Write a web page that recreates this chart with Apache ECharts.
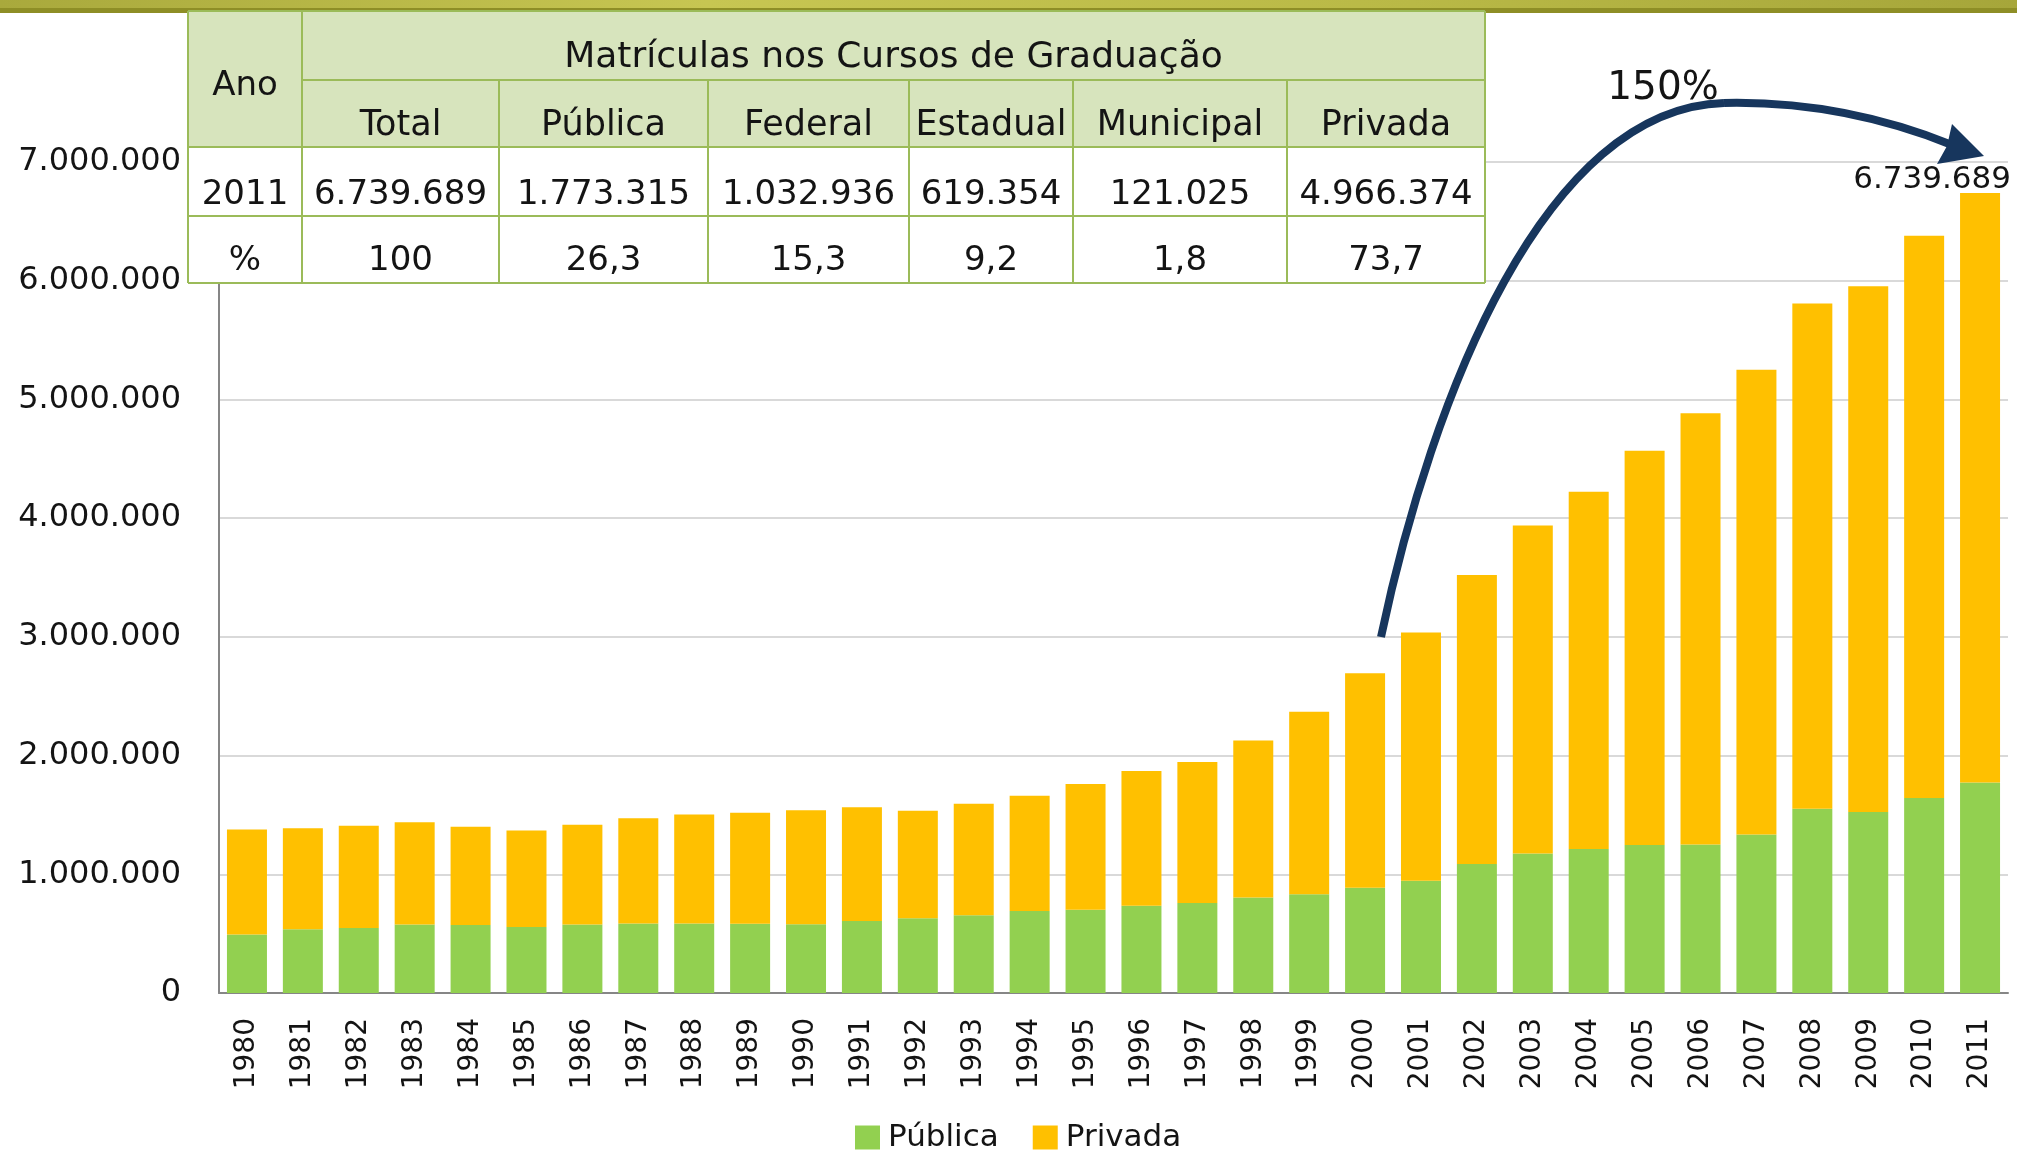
<!DOCTYPE html>
<html>
<head>
<meta charset="utf-8">
<title>Matrículas nos Cursos de Graduação</title>
<script src="https://cdn.jsdelivr.net/npm/echarts@6/dist/echarts.min.js"></script>
<style>
    html, body { margin: 0; padding: 0; background: #fff; }
    #chart { width: 2017px; height: 1155px; }
</style>
</head>
<body>
<div id="chart"></div>
<script>
    // anos do gráfico
    var anos = ['1980', '1981', '1982', '1983', '1984', '1985', '1986', '1987', '1988', '1989',
        '1990', '1991', '1992', '1993', '1994', '1995', '1996', '1997', '1998', '1999',
        '2000', '2001', '2002', '2003', '2004', '2005', '2006', '2007', '2008', '2009',
        '2010', '2011'];
    // matrículas - rede pública
    var publica = [492000, 536000, 548000, 577000, 572000, 557000, 578000, 585000, 585000, 584000,
        579000, 606000, 630000, 654000, 690000, 701000, 735000, 759000, 805000, 832000,
        887000, 945000, 1086000, 1176000, 1214000, 1247000, 1251000, 1335000, 1553000, 1524000,
        1643000, 1773315];
    // matrículas - rede privada
    var privada = [885000, 851000, 860000, 862000, 828000, 811000, 840000, 886000, 918000, 935000,
        961000, 959000, 906000, 941000, 971000, 1059000, 1134000, 1187000, 1321000, 1538000,
        1807000, 2091000, 2435000, 2761000, 3009000, 3321000, 3633000, 3915000, 4255000, 4430000,
        4736000, 4966374];
    // eixo y
    var yMax = 7000000;
    var yStep = 1000000;

    // tabela
    var tabelaAno = 'Ano';
    var tabelaTitulo = 'Matrículas nos Cursos de Graduação';
    var tabelaColunas = ['Total', 'Pública', 'Federal', 'Estadual', 'Municipal', 'Privada'];
    var tabelaLinhas = [
        ['2011', '6.739.689', '1.773.315', '1.032.936', '619.354', '121.025', '4.966.374'],
        ['%', '100', '26,3', '15,3', '9,2', '1,8', '73,7']
    ];
    var crescimento = '150%';

    var fonte = '"DejaVu Sans", Verdana, sans-serif';
    var corTexto = '#141414';
    var corSeta = '#17365D';

    function pontos(n) {
        return String(n).replace(/\B(?=(\d{3})+(?!\d))/g, '.');
    }

    // grade da tabela
    var colX = [188, 302, 499, 708, 909, 1073, 1287, 1485];
    var rowY = [11, 80, 147, 216, 283];
    var verde = '#9BBB59';
    var fundo = '#D7E4BD';

    function texto(str, x, y, size) {
        return {
            type: 'text', z: 102, x: x, y: y,
            style: {
                text: str, fill: corTexto, font: size + 'px ' + fonte,
                textAlign: 'center', textVerticalAlign: 'middle',
                align: 'center', verticalAlign: 'middle'
            }
        };
    }

    function linha(x1, y1, x2, y2) {
        return {
            type: 'line', z: 101,
            shape: { x1: x1, y1: y1, x2: x2, y2: y2 },
            style: { stroke: verde, lineWidth: 2 }
        };
    }

    function curva(p) {
        return {
            type: 'bezierCurve', z: 103,
            shape: { x1: p[0], y1: p[1], cpx1: p[2], cpy1: p[3], cpx2: p[4], cpy2: p[5], x2: p[6], y2: p[7] },
            style: { stroke: corSeta, lineWidth: 8, fill: 'none' }
        };
    }

    var graficos = [];
    // faixa superior
    graficos.push({
        type: 'rect', z: 100,
        shape: { x: 0, y: 0, width: 2017, height: 13 },
        style: {
            fill: new echarts.graphic.LinearGradient(0, 0, 1, 0, [
                { offset: 0, color: '#A9A93C' },
                { offset: 0.35, color: '#C7C652' },
                { offset: 0.7, color: '#B9B946' },
                { offset: 1, color: '#A6A63A' }
            ])
        }
    });
    graficos.push({
        type: 'rect', z: 100,
        shape: { x: 0, y: 8, width: 2017, height: 5 },
        style: { fill: '#8E8E26' }
    });
    // fundo da tabela
    graficos.push({
        type: 'rect', z: 100,
        shape: { x: colX[0], y: rowY[0], width: colX[7] - colX[0], height: rowY[2] - rowY[0] },
        style: { fill: fundo }
    });
    graficos.push({
        type: 'rect', z: 100,
        shape: { x: colX[0], y: rowY[2], width: colX[7] - colX[0], height: rowY[4] - rowY[2] },
        style: { fill: '#fff' }
    });
    // linhas horizontais
    graficos.push(linha(colX[0], rowY[0], colX[7], rowY[0]));
    graficos.push(linha(colX[1], rowY[1], colX[7], rowY[1]));
    graficos.push(linha(colX[0], rowY[2], colX[7], rowY[2]));
    graficos.push(linha(colX[0], rowY[3], colX[7], rowY[3]));
    graficos.push(linha(colX[0], rowY[4], colX[7], rowY[4]));
    // linhas verticais
    graficos.push(linha(colX[0], rowY[0], colX[0], rowY[4]));
    graficos.push(linha(colX[1], rowY[0], colX[1], rowY[4]));
    graficos.push(linha(colX[7], rowY[0], colX[7], rowY[4]));
    for (var c = 2; c < 7; c++) {
        graficos.push(linha(colX[c], rowY[1], colX[c], rowY[4]));
    }
    // textos da tabela
    graficos.push(texto(tabelaAno, (colX[0] + colX[1]) / 2, 86, 34));
    graficos.push(texto(tabelaTitulo, (colX[1] + colX[7]) / 2, 58, 36));
    tabelaColunas.forEach(function (t, i) {
        graficos.push(texto(t, (colX[i + 1] + colX[i + 2]) / 2, 126, 35));
    });
    tabelaLinhas.forEach(function (lin, r) {
        lin.forEach(function (t, i) {
            graficos.push(texto(t, (colX[i] + colX[i + 1]) / 2, r === 0 ? 195 : 261, 34));
        });
    });
    // seta de crescimento
    graficos.push(curva([1381, 637, 1432, 395, 1545, 108, 1724, 103]));
    graficos.push(curva([1724, 103, 1815, 101, 1890, 120, 1952, 145]));
    graficos.push({
        type: 'polygon', z: 103,
        shape: { points: [[1952, 124], [1984, 156], [1937, 164], [1947, 146]] },
        style: { fill: corSeta }
    });
    graficos.push(texto(crescimento, 1663, 89, 39));

    var chart = echarts.init(document.getElementById('chart'));
    chart.setOption({
        backgroundColor: '#fff',
        animation: false,
        textStyle: { fontFamily: fonte },
        grid: { left: 219, right: 9, top: 162, bottom: 162 },
        legend: {
            data: ['Pública', 'Privada'],
            left: 855,
            top: 1122,
            padding: 0,
            icon: 'rect',
            itemWidth: 25,
            itemHeight: 24,
            itemGap: 34,
            textStyle: { fontSize: 31, color: corTexto, fontFamily: fonte, padding: [0, 0, 0, 3] }
        },
        xAxis: {
            type: 'category',
            data: anos,
            axisTick: { show: false },
            axisLine: { lineStyle: { color: '#868686', width: 2 } },
            axisLabel: {
                rotate: 90,
                interval: 0,
                margin: 25,
                fontSize: 28,
                color: corTexto,
                fontFamily: fonte
            }
        },
        yAxis: {
            type: 'value',
            min: 0,
            max: yMax,
            interval: yStep,
            axisTick: { show: false },
            axisLine: { show: true, lineStyle: { color: '#868686', width: 2 } },
            splitLine: { lineStyle: { color: '#D9D9D9', width: 2 } },
            axisLabel: {
                margin: 38,
                fontSize: 32,
                color: corTexto,
                fontFamily: fonte,
                formatter: function (v) { return pontos(v); }
            }
        },
        series: [{
            name: 'Pública',
            type: 'bar',
            stack: 'total',
            barWidth: 40,
            data: publica,
            itemStyle: { color: '#92D050' }
        }, {
            name: 'Privada',
            type: 'bar',
            stack: 'total',
            barWidth: 40,
            data: privada,
            itemStyle: { color: '#FFC000' },
            label: {
                show: true,
                position: 'top',
                distance: 5,
                offset: [-48, 8],
                fontSize: 31,
                color: corTexto,
                fontFamily: fonte,
                formatter: function (p) {
                    if (p.dataIndex !== anos.length - 1) return '';
                    return pontos(publica[p.dataIndex] + privada[p.dataIndex]);
                }
            }
        }],
        graphic: { elements: graficos }
    });
</script>
</body>
</html>
